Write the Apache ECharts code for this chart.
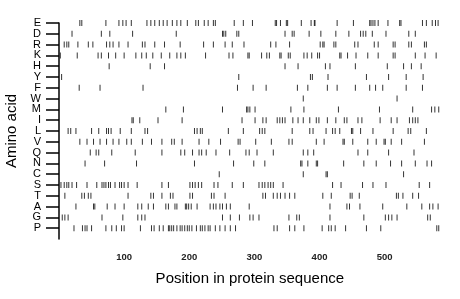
<!DOCTYPE html>
<html><head><meta charset="utf-8">
<script src="https://cdn.jsdelivr.net/npm/echarts@6/dist/echarts.min.js"></script>
<style>html,body{margin:0;padding:0;background:#fff}#c{width:460px;height:299px}</style>
</head><body><div id="c"></div>
<script>
// Amino acids, top to bottom
const aminoAcids = ['E','D','R','K','H','Y','F','W','M','I','L','V','Q','N','C','S','T','A','G','P'];
// Positions of each residue in the sequence
const E = [32,35,72,92,98,103,111,135,141,147,154,160,166,174,181,187,197,210,214,223,229,237,240,269,283,297,332,334,340,349,351,372,387,392,393,427,452,477,479,482,485,490,505,523,525,558,564,573,578,582];
const D = [20,65,78,113,180,251,253,256,273,276,347,358,361,384,402,425,445,463,467,471,481,502,537,547];
const R = [8,12,15,29,45,52,73,78,83,92,106,128,132,147,162,186,222,237,255,266,284,325,333,354,401,405,407,422,425,454,459,484,490,513,516,537,541,561,564];
const K = [2,28,60,65,76,87,100,118,127,134,144,157,170,181,187,194,225,261,267,290,292,311,319,323,339,341,352,355,376,381,388,397,400,431,433,443,456,474,490,513,516,547,562,579];
const H = [77,140,162,347,367,409,416,455,504,529,541,556];
const Y = [4,276,386,389,413,472,506,533,559];
const F = [31,63,129,274,298,318,366,382,412,427,455,477,486,497,533,558];
const W = [375,519];
const M = [164,191,251,288,290,293,301,356,376,429,492,543,572,577,583];
const I = [112,114,124,152,189,281,301,313,318,335,339,343,347,359,367,375,385,395,399,412,425,438,442,459,465,493,510,519,538,543,547,551];
const L = [14,18,26,50,61,73,76,80,94,111,132,136,208,212,217,220,260,283,308,312,316,358,385,390,410,420,424,431,449,451,463,482,513,536,540,564];
const V = [32,43,53,63,73,83,92,104,111,128,142,158,173,177,189,215,230,248,275,278,302,326,353,358,395,407,436,438,451,474,487,499,501,510,526,561];
const Q = [48,57,61,81,117,158,187,193,205,215,219,226,241,262,287,292,304,329,375,382,391,459,474,506,545];
const N = [40,70,119,208,268,299,316,371,373,382,395,397,437,468,487,509,526,547,565,572];
const C = [246,375,410,412,529];
const S = [3,8,12,15,20,27,43,58,66,69,72,76,79,86,93,96,100,106,120,158,168,201,205,209,214,219,238,244,266,283,307,312,316,321,325,329,344,420,433,466,482,502,553,569];
const T = [9,35,39,45,49,106,141,145,158,171,175,201,205,234,238,255,313,317,329,335,340,347,354,362,405,418,447,450,461,518,521,528,543,552];
const A = [26,53,55,74,86,100,121,127,137,145,164,168,178,181,194,196,199,203,212,232,237,241,247,251,257,263,292,416,442,446,462,497,534,557,569,574,582];
const G = [5,9,14,66,98,121,127,132,251,263,277,293,298,307,353,365,369,416,468,501,506,511,519,566,570];
const P = [23,36,40,43,50,72,81,88,96,100,125,142,146,154,160,168,170,173,176,181,186,189,193,197,200,204,211,217,220,224,229,232,240,247,255,263,271,330,335,354,362,376,404,414,418,424,440,472,494,580,583];
const xTickValues = [100,200,300,400,500];
const seqLength = 586;

const byAA = {E,D,R,K,H,Y,F,W,M,I,L,V,Q,N,C,S,T,A,G,P};
const points = [];
aminoAcids.forEach(aa => byAA[aa].forEach(p => points.push([p, aa])));
const yCats = [''].concat(aminoAcids.slice().reverse());

const font = "'Liberation Sans', Arial, Helvetica, sans-serif";
const chart = echarts.init(document.getElementById('c'), null, {renderer: 'canvas'});
chart.setOption({
  animation: false,
  backgroundColor: '#fff',
  grid: {left: 59, right: 19.3, top: 23, bottom: 60, containLabel: false, outerBoundsMode: 'none'},
  xAxis: {
    type: 'value', min: 0, max: seqLength,
    name: 'Position in protein sequence', nameLocation: 'middle', nameGap: 32,
    nameTextStyle: {fontFamily: font, fontSize: 15, color: '#000'},
    splitLine: {show: false},
    axisLine: {lineStyle: {color: '#000', width: 1.5}},
    axisTick: {length: 10, lineStyle: {color: '#000', width: 1.5}, customValues: xTickValues},
    axisLabel: {fontFamily: font, fontSize: 9.5, fontWeight: 'bold', color: '#222', margin: 13, customValues: xTickValues}
  },
  yAxis: {
    type: 'category', data: yCats, boundaryGap: false,
    name: 'Amino acid', nameLocation: 'middle', nameGap: 28, nameRotate: 90,
    nameTextStyle: {fontFamily: font, fontSize: 15, color: '#000'},
    splitLine: {show: false},
    axisLine: {lineStyle: {color: '#000', width: 1.5}},
    axisTick: {length: 13, lineStyle: {color: '#000', width: 1.5}, interval: (i) => i > 0},
    axisLabel: {fontFamily: font, fontSize: 11, color: '#000', margin: 18, interval: 0}
  },
  series: [{
    type: 'scatter', data: points,
    symbol: 'rect', symbolSize: [1, 6],
    itemStyle: {color: '#000'},
    silent: true
  }]
});
</script></body></html>
